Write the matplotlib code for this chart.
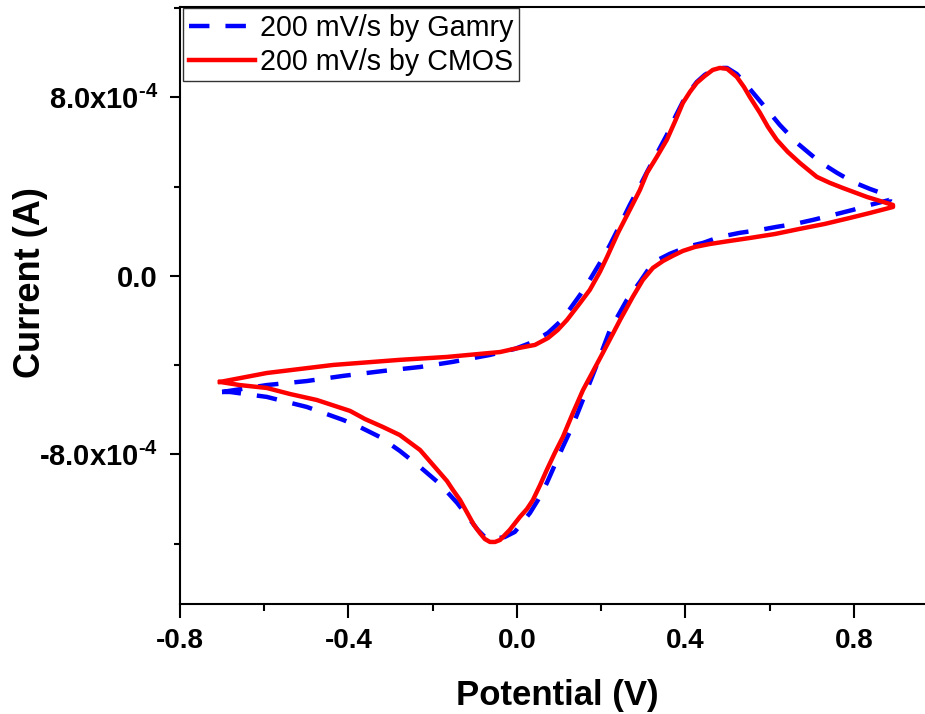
import matplotlib
matplotlib.use("Agg")
import matplotlib.pyplot as plt
from matplotlib.ticker import MultipleLocator, FuncFormatter

plt.rcParams['font.family'] = ['Liberation Sans', 'DejaVu Sans']
plt.rcParams['mathtext.fontset'] = 'custom'
plt.rcParams['mathtext.rm'] = 'Liberation Sans:bold'
plt.rcParams['mathtext.bf'] = 'Liberation Sans:bold'
plt.rcParams['mathtext.it'] = 'Liberation Sans:bold'

# ---- data (potential in V, current in units of 1e-4 A) ----
gamry_fwd_v = [-0.700, -0.594, -0.499, -0.413, -0.318, -0.230, -0.152, -0.064, -0.005,
               0.038, 0.074, 0.102, 0.126, 0.150, 0.173, 0.197, 0.221, 0.245, 0.268,
               0.292, 0.309, 0.332, 0.356, 0.377, 0.394, 0.411, 0.427, 0.446, 0.465,
               0.482, 0.499, 0.522, 0.553, 0.589, 0.624, 0.665, 0.696, 0.719, 0.760,
               0.798, 0.838, 0.878, 0.886]
gamry_fwd_i = [-5.20, -4.89, -4.71, -4.48, -4.26, -4.08, -3.85, -3.54, -3.27,
               -2.96, -2.55, -2.06, -1.48, -0.85, -0.18, 0.58, 1.39, 2.29, 3.18,
               4.03, 4.66, 5.47, 6.32, 7.17, 7.80, 8.29, 8.69, 9.01, 9.23,
               9.32, 9.32, 9.05, 8.38, 7.57, 6.77, 5.96, 5.47, 5.11, 4.62,
               4.21, 3.90, 3.63, 3.54]
gamry_rev_v = [0.886, 0.838, 0.798, 0.750, 0.703, 0.660, 0.617, 0.577, 0.529, 0.482,
               0.442, 0.411, 0.387, 0.363, 0.339, 0.316, 0.292, 0.261, 0.221, 0.185,
               0.150, 0.131, 0.109, 0.090, 0.071, 0.050, 0.031, 0.014, -0.005, -0.029,
               -0.057, -0.076, -0.093, -0.116, -0.142, -0.183, -0.230, -0.278, -0.325,
               -0.373, -0.413, -0.499, -0.546, -0.594, -0.646, -0.681, -0.700]
gamry_rev_i = [3.41, 3.18, 2.96, 2.73, 2.51, 2.33, 2.20, 2.06, 1.93, 1.75,
               1.48, 1.34, 1.17, 0.99, 0.76, 0.40, -0.27, -1.08, -2.42, -4.21,
               -5.87, -6.77, -7.66, -8.47, -9.28, -10.04, -10.62, -11.02, -11.47, -11.70,
               -11.79, -11.70, -11.38, -10.80, -10.17, -9.32, -8.56, -7.84, -7.22,
               -6.77, -6.45, -5.87, -5.65, -5.42, -5.29, -5.20, -5.20]

cmos_fwd_v = [-0.705, -0.594, -0.437, -0.278, -0.166, -0.040, -0.007, 0.043, 0.074,
              0.097, 0.119, 0.150, 0.173, 0.197, 0.214, 0.240, 0.268, 0.292, 0.309,
              0.332, 0.356, 0.377, 0.394, 0.411, 0.427, 0.446, 0.465, 0.482, 0.499,
              0.522, 0.539, 0.553, 0.577, 0.596, 0.617, 0.643, 0.672, 0.712, 0.743,
              0.774, 0.831, 0.893]
cmos_fwd_i = [-4.75, -4.35, -3.99, -3.76, -3.63, -3.41, -3.27, -3.09, -2.78,
              -2.42, -1.97, -1.21, -0.63, 0.18, 0.85, 1.93, 2.96, 3.85, 4.62,
              5.33, 6.10, 6.99, 7.75, 8.25, 8.65, 8.96, 9.23, 9.32, 9.28,
              8.92, 8.47, 8.02, 7.31, 6.68, 6.10, 5.56, 5.06, 4.44, 4.17,
              3.94, 3.54, 3.18]
cmos_rev_v = [0.893, 0.838, 0.791, 0.731, 0.672, 0.613, 0.553, 0.506, 0.458, 0.423,
              0.394, 0.370, 0.347, 0.323, 0.299, 0.275, 0.245, 0.204, 0.180, 0.157,
              0.133, 0.109, 0.090, 0.071, 0.055, 0.038, 0.024, 0.007, -0.017, -0.040,
              -0.052, -0.064, -0.076, -0.088, -0.102, -0.119, -0.135, -0.152, -0.166,
              -0.195, -0.230, -0.278, -0.318, -0.361, -0.396, -0.475, -0.539, -0.594,
              -0.658, -0.705]
cmos_rev_i = [3.09, 2.82, 2.60, 2.33, 2.11, 1.88, 1.70, 1.57, 1.43, 1.30,
              1.12, 0.90, 0.67, 0.36, -0.18, -0.94, -1.97, -3.45, -4.30, -5.11,
              -6.14, -7.22, -7.93, -8.69, -9.37, -10.04, -10.44, -10.80, -11.38, -11.83,
              -11.92, -11.92, -11.79, -11.52, -11.16, -10.58, -10.04, -9.59, -9.19,
              -8.56, -7.80, -7.13, -6.77, -6.41, -6.05, -5.56, -5.29, -5.02,
              -4.89, -4.75]

labels = ["200 mV/s by Gamry", "200 mV/s by CMOS"]
x_ticks = [-0.8, -0.4, 0.0, 0.4, 0.8]
y_ticks = [-8e-4, 0.0, 8e-4]

scale = 1e-4
gv = gamry_fwd_v + gamry_rev_v
gi = [v * scale for v in gamry_fwd_i + gamry_rev_i]
cv = cmos_fwd_v + cmos_rev_v
ci = [v * scale for v in cmos_fwd_i + cmos_rev_i]

fig = plt.figure(figsize=(9.25, 7.14), dpi=100)
ax = fig.add_axes([180/925, 110/714, 745/925, 597/714])

ax.plot(gv, gi, color='#0000FF', lw=3.2, ls=(0, (4.6, 3.6)), label=labels[0],
        solid_joinstyle='round', dash_joinstyle='round')
ax.plot(cv, ci, color='#FF0000', lw=3.2, label=labels[1],
        solid_joinstyle='round')

ax.set_xlim(-0.8, 0.969)
ax.set_ylim(-1.47e-3, 1.205e-3)

ax.set_xticks(x_ticks)
ax.xaxis.set_minor_locator(MultipleLocator(0.2))
ax.set_yticks(y_ticks)
ax.yaxis.set_minor_locator(MultipleLocator(4e-4))

def yfmt(v, pos):
    if abs(v) < 1e-12:
        return '0.0'
    return '%.1fx10$^{\\text{-4}}$' % (v / 1e-4)

ax.yaxis.set_major_formatter(FuncFormatter(yfmt))
ax.xaxis.set_major_formatter(FuncFormatter(lambda v, p: '%.1f' % v))

ax.tick_params(axis='x', which='major', direction='out', length=10, width=1.5, pad=7,
               labelsize=20)
ax.tick_params(axis='x', which='minor', direction='out', length=5, width=1.5)
ax.tick_params(axis='y', which='major', direction='out', length=7, width=1.5, pad=9,
               labelsize=21)
ax.tick_params(axis='y', which='minor', direction='out', length=4, width=1.5)
for t in ax.get_xticklabels() + ax.get_yticklabels():
    t.set_fontweight('bold')

for s in ['left', 'bottom', 'top']:
    ax.spines[s].set_linewidth(1.5)
ax.spines['right'].set_visible(False)

ax.set_xlabel('Potential (V)', fontsize=25, fontweight='bold')
ax.set_ylabel('Current (A)', fontsize=26, fontweight='bold')
ax.yaxis.label.set_verticalalignment('center')
ax.xaxis.set_label_coords(0.506, -0.125)
ax.yaxis.set_label_coords(-0.201, 0.539)

leg = ax.legend(loc='upper left', bbox_to_anchor=(0.004, 0.998), borderaxespad=0,
                fontsize=20.6, frameon=True, fancybox=False, edgecolor='black',
                handlelength=2.3, handletextpad=0.2, labelspacing=0.2,
                borderpad=0.2)
leg.get_frame().set_linewidth(1.0)

fig.savefig('out.png', dpi=100)
